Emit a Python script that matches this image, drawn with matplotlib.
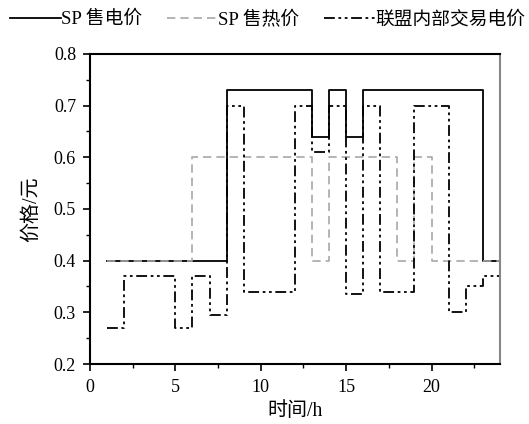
import matplotlib
matplotlib.use("Agg")
import matplotlib.pyplot as plt
from matplotlib.ticker import MultipleLocator, FormatStrFormatter

plt.rcParams['font.family'] = ['Liberation Serif', 'Noto Sans CJK SC']

# Hourly prices, each value holds from its hour to the next one
hours = list(range(1, 25))
sp_elec = [0.4, 0.4, 0.4, 0.4, 0.4, 0.4, 0.4, 0.73, 0.73, 0.73, 0.73, 0.73,
           0.64, 0.73, 0.64, 0.73, 0.73, 0.73, 0.73, 0.73, 0.73, 0.73, 0.4]
sp_heat = [0.4, 0.4, 0.4, 0.4, 0.4, 0.6, 0.6, 0.6, 0.6, 0.6, 0.6, 0.6,
           0.4, 0.6, 0.6, 0.6, 0.6, 0.4, 0.6, 0.4, 0.4, 0.4, 0.4]
alliance = [0.27, 0.37, 0.37, 0.37, 0.27, 0.37, 0.295, 0.7, 0.34, 0.34, 0.34, 0.7,
            0.61, 0.7, 0.335, 0.7, 0.34, 0.34, 0.7, 0.7, 0.3, 0.35, 0.37]
labels = ['SP 售电价', 'SP 售热价', '联盟内部交易电价']

def close(v):
    return v + [v[-1]]

fig = plt.figure(figsize=(5.29, 4.24), dpi=100)
ax = fig.add_axes([0.170, 0.1415, 0.775, 0.7315])

ax.plot(hours, close(sp_elec), drawstyle='steps-post', color='black', lw=1.3,
        label=labels[0])
ax.plot(hours, close(sp_heat), drawstyle='steps-post', color='#a8a8a8', lw=1.2,
        linestyle=(0, (5, 3)), label=labels[1])
ax.plot(hours, close(alliance), drawstyle='steps-post', color='black', lw=1.3,
        linestyle=(0, (6, 2, 1.5, 2, 1.5, 2)), label=labels[2])

ax.set_xlim(0, 24)
ax.set_ylim(0.2, 0.8)
ax.xaxis.set_major_locator(MultipleLocator(5))
ax.xaxis.set_minor_locator(MultipleLocator(2.5))
ax.yaxis.set_major_locator(MultipleLocator(0.1))
ax.yaxis.set_minor_locator(MultipleLocator(0.05))
ax.tick_params(which='major', length=5, width=1.2, labelsize=13, direction='out')
ax.tick_params(axis='x', which='major', pad=6)
ax.tick_params(axis='y', which='major', pad=5)
ax.tick_params(which='minor', length=3, width=1.0, direction='out')
ax.yaxis.set_major_formatter(FormatStrFormatter('%.1f'))

for side in ['left', 'bottom', 'top']:
    ax.spines[side].set_linewidth(1.5)
ax.spines['right'].set_linewidth(1.5)
ax.spines['right'].set_color('#888888')

ax.set_xlabel('时间/h', fontsize=14.4, labelpad=4)
ax.set_ylabel('价格/元', fontsize=14.4, labelpad=9)

fig.legend(loc='upper left', bbox_to_anchor=(0.0, 1.0), ncol=3, frameon=False,
           fontsize=13.5, handlelength=2.7, handletextpad=0.0,
           columnspacing=1.35, borderaxespad=0.2, borderpad=0.35)

fig.savefig('out.png', dpi=100)
